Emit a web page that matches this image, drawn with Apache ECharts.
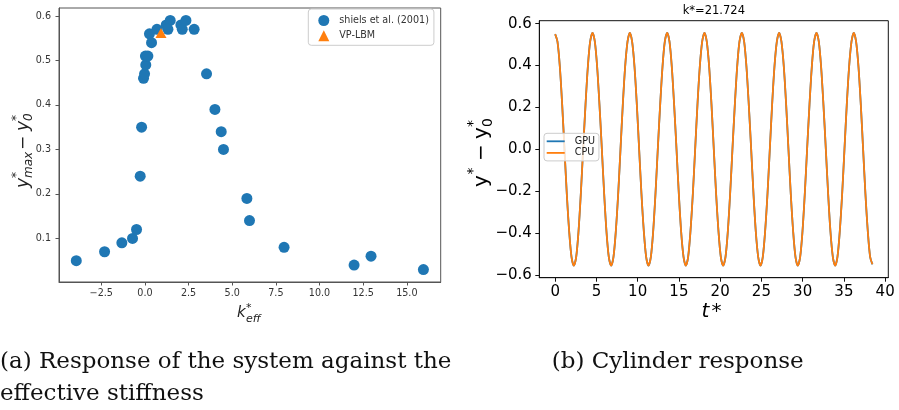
<!DOCTYPE html>
<html><head><meta charset="utf-8">
<script src="https://cdn.jsdelivr.net/npm/echarts@6.0.0/dist/echarts.min.js"></script>
<style>html,body{margin:0;padding:0;background:#fff}#c{width:899px;height:410px}</style>
</head><body><div id="c"></div>
<script>
// ---- (a) response vs effective stiffness ----
const shielsK = [-3.93, -2.31, -1.32, -0.71, -0.48, -0.27, -0.19, -0.08, -0.02, 0.05, 0.03, 0.17, 0.26, 0.38, 0.69, 1.22, 1.45, 1.32, 2.06, 2.14, 2.35, 2.82, 3.53, 4.01, 4.37, 4.50, 5.84, 5.99, 7.97, 11.98, 12.95, 15.95];
const shielsY = [0.05, 0.07, 0.09, 0.10, 0.12, 0.24, 0.35, 0.46, 0.47, 0.49, 0.51, 0.51, 0.56, 0.54, 0.57, 0.58, 0.59, 0.57, 0.58, 0.57, 0.59, 0.57, 0.47, 0.39, 0.34, 0.30, 0.19, 0.14, 0.08, 0.04, 0.06, 0.03];
const vpK = [0.92];
const vpY = [0.562];
const kTicks = [-2.5, 0, 2.5, 5, 7.5, 10, 12.5, 15];
const ampTicks = [0.1, 0.2, 0.3, 0.4, 0.5, 0.6];

// ---- (b) cylinder response ----
const tStar = [0.00, 0.28, 0.57, 0.85, 1.13, 1.41, 1.70, 1.98, 2.26, 2.55, 2.83, 3.11, 3.39, 3.68, 3.96, 4.24,
  4.53, 4.81, 5.09, 5.37, 5.66, 5.94, 6.22, 6.50, 6.79, 7.07, 7.35, 7.64, 7.92, 8.20, 8.48, 8.77,
  9.05, 9.33, 9.62, 9.90, 10.18, 10.46, 10.75, 11.03, 11.31, 11.60, 11.88, 12.16, 12.44, 12.73, 13.01, 13.29,
  13.58, 13.86, 14.14, 14.42, 14.71, 14.99, 15.27, 15.56, 15.84, 16.12, 16.40, 16.69, 16.97, 17.25, 17.53, 17.82,
  18.10, 18.38, 18.67, 18.95, 19.23, 19.51, 19.80, 20.08, 20.36, 20.65, 20.93, 21.21, 21.49, 21.78, 22.06, 22.34,
  22.63, 22.91, 23.19, 23.47, 23.76, 24.04, 24.32, 24.61, 24.89, 25.17, 25.45, 25.74, 26.02, 26.30, 26.58, 26.87,
  27.15, 27.43, 27.72, 28.00, 28.28, 28.56, 28.85, 29.13, 29.41, 29.70, 29.98, 30.26, 30.54, 30.83, 31.11, 31.39,
  31.68, 31.96, 32.24, 32.52, 32.81, 33.09, 33.37, 33.66, 33.94, 34.22, 34.50, 34.79, 35.07, 35.35, 35.63, 35.92,
  36.20, 36.48, 36.77, 37.05, 37.33, 37.61, 37.90, 38.18, 38.46];
const gpuY = [0.55, 0.514, 0.393, 0.213, 0.0, -0.213, -0.393, -0.514, -0.556, -0.514, -0.393, -0.213, 0.0, 0.213, 0.393, 0.514,
  0.556, 0.514, 0.393, 0.213, 0.0, -0.213, -0.393, -0.514, -0.556, -0.514, -0.393, -0.213, 0.0, 0.213, 0.393, 0.514,
  0.556, 0.514, 0.393, 0.213, 0.0, -0.213, -0.393, -0.514, -0.556, -0.514, -0.393, -0.213, 0.0, 0.213, 0.393, 0.514,
  0.556, 0.514, 0.393, 0.213, 0.0, -0.213, -0.393, -0.514, -0.556, -0.514, -0.393, -0.213, 0.0, 0.213, 0.393, 0.514,
  0.556, 0.514, 0.393, 0.213, 0.0, -0.213, -0.393, -0.514, -0.556, -0.514, -0.393, -0.213, 0.0, 0.213, 0.393, 0.514,
  0.556, 0.514, 0.393, 0.213, 0.0, -0.213, -0.393, -0.514, -0.556, -0.514, -0.393, -0.213, 0.0, 0.213, 0.393, 0.514,
  0.556, 0.514, 0.393, 0.213, 0.0, -0.213, -0.393, -0.514, -0.556, -0.514, -0.393, -0.213, 0.0, 0.213, 0.393, 0.514,
  0.556, 0.514, 0.393, 0.213, 0.0, -0.213, -0.393, -0.514, -0.556, -0.514, -0.393, -0.213, 0.0, 0.213, 0.393, 0.514,
  0.556, 0.514, 0.393, 0.213, 0.0, -0.213, -0.393, -0.514, -0.55];
const cpuY = [0.55, 0.514, 0.393, 0.213, 0.0, -0.213, -0.393, -0.514, -0.556, -0.514, -0.393, -0.213, 0.0, 0.213, 0.393, 0.514,
  0.556, 0.514, 0.393, 0.213, 0.0, -0.213, -0.393, -0.514, -0.556, -0.514, -0.393, -0.213, 0.0, 0.213, 0.393, 0.514,
  0.556, 0.514, 0.393, 0.213, 0.0, -0.213, -0.393, -0.514, -0.556, -0.514, -0.393, -0.213, 0.0, 0.213, 0.393, 0.514,
  0.556, 0.514, 0.393, 0.213, 0.0, -0.213, -0.393, -0.514, -0.556, -0.514, -0.393, -0.213, 0.0, 0.213, 0.393, 0.514,
  0.556, 0.514, 0.393, 0.213, 0.0, -0.213, -0.393, -0.514, -0.556, -0.514, -0.393, -0.213, 0.0, 0.213, 0.393, 0.514,
  0.556, 0.514, 0.393, 0.213, 0.0, -0.213, -0.393, -0.514, -0.556, -0.514, -0.393, -0.213, 0.0, 0.213, 0.393, 0.514,
  0.556, 0.514, 0.393, 0.213, 0.0, -0.213, -0.393, -0.514, -0.556, -0.514, -0.393, -0.213, 0.0, 0.213, 0.393, 0.514,
  0.556, 0.514, 0.393, 0.213, 0.0, -0.213, -0.393, -0.514, -0.556, -0.514, -0.393, -0.213, 0.0, 0.213, 0.393, 0.514,
  0.556, 0.514, 0.393, 0.213, 0.0, -0.213, -0.393, -0.514, -0.55];
const tTicks = [0, 5, 10, 15, 20, 25, 30, 35, 40];
const respTicks = [-0.6, -0.4, -0.2, 0, 0.2, 0.4, 0.6];

const SANS = '"DejaVu Sans"';
const SERIF = '"DejaVu Serif"';
const fmt1 = v => (v < 0 ? '\u2212' : '') + Math.abs(v).toFixed(1);
const fmt0 = v => String(Math.round(v));

function txt(x, y, s, font, align, color) {
  return { type: 'text', x: x, y: y, silent: true,
    style: { text: s, font: font, fill: color || '#000', align: align || 'left', textAlign: align || 'left',
             verticalAlign: 'middle', textVerticalAlign: 'middle' } };
}

const chart = echarts.init(document.getElementById('c'), null, { renderer: 'canvas' });
const option = {
  animation: false,
  backgroundColor: '#fff',
  grid: [
    { left: 59, top: 8, width: 381.7, height: 274, show: true, borderColor: '#555', borderWidth: 1, backgroundColor: 'transparent' },
    { left: 539.3, top: 20.7, width: 349, height: 257, show: true, borderColor: '#111', borderWidth: 1, backgroundColor: 'transparent' }
  ],
  xAxis: [
    { type: 'value', gridIndex: 0, min: -4.92, max: 16.94, splitLine: { show: false },
      axisLine: { show: true, onZero: false, lineStyle: { color: '#555' } },
      axisTick: { show: true, length: 3.5, customValues: kTicks, lineStyle: { color: '#555' } },
      axisLabel: { customValues: kTicks, formatter: fmt1, fontSize: 9.6, fontFamily: SANS, color: '#333', margin: 6 } },
    { type: 'value', gridIndex: 1, min: -1.923, max: 40.383, splitLine: { show: false },
      axisLine: { show: true, onZero: false, lineStyle: { color: '#111' } },
      axisTick: { show: true, length: 4, customValues: tTicks, lineStyle: { color: '#111' } },
      axisLabel: { customValues: tTicks, formatter: fmt0, fontSize: 15, fontFamily: SANS, color: '#000', margin: 6.5 } }
  ],
  yAxis: [
    { type: 'value', gridIndex: 0, min: 0.002, max: 0.618, splitLine: { show: false },
      axisLine: { show: true, onZero: false, lineStyle: { color: '#555' } },
      axisTick: { show: true, length: 3.5, customValues: ampTicks, lineStyle: { color: '#555' } },
      axisLabel: { customValues: ampTicks, formatter: fmt1, fontSize: 9.6, fontFamily: SANS, color: '#333', margin: 8 } },
    { type: 'value', gridIndex: 1, min: -0.614, max: 0.614, splitLine: { show: false },
      axisLine: { show: true, onZero: false, lineStyle: { color: '#111' } },
      axisTick: { show: true, length: 4, customValues: respTicks, lineStyle: { color: '#111' } },
      axisLabel: { customValues: respTicks, formatter: fmt1, fontSize: 15, fontFamily: SANS, color: '#000', margin: 7.5 } }
  ],
  legend: [
    { data: [{ name: 'shiels et al. (2001)', icon: 'circle' }, { name: 'VP-LBM', icon: 'triangle' }],
      orient: 'vertical', left: 308.3, top: 9, padding: [6, 5, 4, 10], itemWidth: 11, itemHeight: 11, itemGap: 4.3,
      selectedMode: false, backgroundColor: 'rgba(255,255,255,0.8)', borderColor: '#ccc', borderWidth: 1, borderRadius: 3,
      textStyle: { fontSize: 9.6, fontFamily: SANS, color: '#333', padding: [0, 0, 0, 5] } },
    { data: [{ name: 'GPU', icon: 'rect' }, { name: 'CPU', icon: 'rect' }],
      orient: 'vertical', left: 544, top: 133.3, padding: [3, 4, 3, 2.7], itemWidth: 18, itemHeight: 1.8, itemGap: 1.6,
      selectedMode: false, backgroundColor: 'rgba(255,255,255,0.8)', borderColor: '#ccc', borderWidth: 1, borderRadius: 3,
      textStyle: { fontSize: 9.6, fontFamily: SANS, color: '#222', padding: [0, 0, 0, 5] } }
  ],
  series: [
    { name: 'shiels et al. (2001)', type: 'scatter', xAxisIndex: 0, yAxisIndex: 0,
      data: shielsK.map((k, i) => [k, shielsY[i]]), symbol: 'circle', symbolSize: 11,
      itemStyle: { color: '#1f77b4', opacity: 1 }, z: 2 },
    { name: 'VP-LBM', type: 'scatter', xAxisIndex: 0, yAxisIndex: 0,
      data: vpK.map((k, i) => [k, vpY[i]]), symbol: 'triangle', symbolSize: [11, 10],
      itemStyle: { color: '#ff7f0e', opacity: 1 }, z: 3 },
    { name: 'GPU', type: 'line', xAxisIndex: 1, yAxisIndex: 1,
      data: tStar.map((t, i) => [t, gpuY[i]]), symbol: 'none', showSymbol: false, smooth: 0.3,
      itemStyle: { color: '#1f77b4' }, lineStyle: { color: '#1f77b4', width: 1.8 }, z: 2 },
    { name: 'CPU', type: 'line', xAxisIndex: 1, yAxisIndex: 1,
      data: tStar.map((t, i) => [t, cpuY[i]]), symbol: 'none', showSymbol: false, smooth: 0.3,
      itemStyle: { color: '#ff7f0e' }, lineStyle: { color: '#ff7f0e', width: 1.75 }, z: 3 }
  ],
  graphic: [
    { type: 'group', x: 24, y: 188, rotation: Math.PI / 2, silent: true, children: [
      txt(0, 0, 'y', 'italic 17px ' + SANS, 'left', '#222'),
      txt(10, -7, '*', '12px ' + SANS, 'left', '#222'),
      txt(10, 5, 'max', 'italic 12px ' + SANS, 'left', '#222'),
      txt(38, 0, '\u2212', '17px ' + SANS, 'left', '#222'),
      txt(57, 0, 'y', 'italic 17px ' + SANS, 'left', '#222'),
      txt(67, -7, '*', '12px ' + SANS, 'left', '#222'),
      txt(67, 5, '0', 'italic 12px ' + SANS, 'left', '#222')
    ]},
    txt(237, 313.5, 'k', 'italic 15px ' + SANS, 'left', '#222'),
    txt(246, 308, '*', '11px ' + SANS, 'left', '#222'),
    txt(246, 319.5, 'eff', 'italic 11px ' + SANS, 'left', '#222'),
    txt(713.8, 11.5, 'k*=21.724', '11.5px ' + SANS, 'center', '#000'),
    { type: 'group', x: 482, y: 187, rotation: Math.PI / 2, silent: true, children: [
      txt(0, 0, 'y', '20px ' + SANS),
      txt(12.5, -9, '*', '14px ' + SANS),
      txt(26, 0, '\u2212', '20px ' + SANS),
      txt(48, 0, 'y', '20px ' + SANS),
      txt(60, -9, '*', '14px ' + SANS),
      txt(60, 6, '0', '14px ' + SANS)
    ]},
    txt(701.5, 312, 't', 'italic 20px ' + SANS),
    txt(711.5, 312, '*', '20px ' + SANS),
    txt(0, 362, '(a) Response of the system against the', '23px ' + SERIF, 'left', '#111'),
    txt(0, 394, 'effective stiffness', '23px ' + SERIF, 'left', '#111'),
    txt(551.7, 362, '(b) Cylinder response', '23px ' + SERIF, 'left', '#111')
  ]
};
chart.setOption(option);
</script>
</body></html>
